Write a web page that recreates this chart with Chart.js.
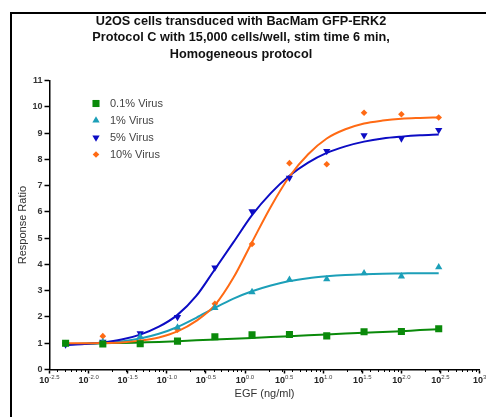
<!DOCTYPE html>
<html>
<head>
<meta charset="utf-8">
<script src="https://cdn.jsdelivr.net/npm/chart.js@4.4.1/dist/chart.umd.min.js"></script>
<style>
  html, body { margin: 0; padding: 0; background: #fff; }
  canvas { display: block; }
</style>
</head>
<body>
<canvas id="egfChart" width="486" height="417"></canvas>
<script>
// EGF doses in ng/ml (1:3 dilution series from 300)
const doses = [0.00508, 0.0152, 0.0457, 0.137, 0.412, 1.23, 3.70, 11.1, 33.3, 100, 300];

// measured response ratios
const virus01 = [1.00, 0.97, 0.98, 1.08, 1.25, 1.32, 1.33, 1.28, 1.44, 1.45, 1.55];
const virus1  = [0.97, 1.05, 1.25, 1.60, 2.35, 2.95, 3.42, 3.44, 3.67, 3.55, 3.90];
const virus5  = [0.95, 1.05, 1.38, 2.00, 3.88, 6.02, 7.30, 8.32, 8.92, 8.80, 9.12];
const virus10 = [1.00, 1.27, 1.05, 1.52, 2.50, 4.78, 7.86, 7.82, 9.78, 9.72, 9.60];

// fitted curves
const fitDoses = [0.00508, 0.0088, 0.0152, 0.0264, 0.0457, 0.0792, 0.137, 0.238, 0.412, 0.713,
                  1.23, 2.14, 3.70, 6.42, 11.1, 19.2, 33.3, 57.7, 100, 173, 300];
const fit01 = [0.97, 0.98, 1.00, 1.01, 1.03, 1.05, 1.08, 1.11, 1.14, 1.17, 1.20,
               1.24, 1.27, 1.30, 1.33, 1.37, 1.40, 1.43, 1.46, 1.50, 1.53];
const fit1  = [0.96, 0.98, 1.01, 1.07, 1.18, 1.36, 1.62, 1.97, 2.35, 2.70, 2.98,
               3.20, 3.37, 3.48, 3.55, 3.60, 3.63, 3.65, 3.66, 3.67, 3.67];
const fit5  = [0.93, 0.97, 1.03, 1.14, 1.33, 1.63, 2.08, 2.80, 3.82, 4.85, 5.88,
               6.72, 7.38, 7.88, 8.25, 8.50, 8.68, 8.80, 8.87, 8.92, 8.95];
const fit10 = [1.00, 1.00, 1.01, 1.03, 1.10, 1.22, 1.45, 1.85, 2.45, 3.50, 4.85,
               6.20, 7.35, 8.20, 8.80, 9.15, 9.37, 9.48, 9.55, 9.58, 9.60];

const seriesLabels = ['0.1% Virus', '1% Virus', '5% Virus', '10% Virus'];
const titleLines = [
  'U2OS cells transduced with BacMam GFP-ERK2',
  'Protocol C with 15,000 cells/well, stim time 6 min,',
  'Homogeneous protocol'
];
const xTickExps = ['-2.5', '-2.0', '-1.5', '-1.0', '-0.5', '0.0', '0.5', '1.0', '1.5', '2.0', '2.5', '3'];

const colors = ['#0a8a0a', '#1c9fb8', '#0c0cc4', '#ff6a14'];
const markers = [
  { pointStyle: 'rect', radius: 5, rotation: 0 },
  { pointStyle: 'triangle', radius: 4.2, rotation: 0 },
  { pointStyle: 'triangle', radius: 4.2, rotation: 180 },
  { pointStyle: 'rectRot', radius: 3.3, rotation: 0 }
];
const FONT = '"Liberation Sans", Arial, sans-serif';

const pts = (xs, ys) => xs.map((x, i) => ({ x: x, y: ys[i] }));
const measured = [virus01, virus1, virus5, virus10];
const fits = [fit01, fit1, fit5, fit10];

const datasets = [];
measured.forEach((vals, i) => {
  datasets.push({
    label: seriesLabels[i],
    data: pts(doses, vals),
    showLine: false,
    backgroundColor: colors[i],
    borderColor: colors[i],
    borderWidth: 0,
    pointStyle: markers[i].pointStyle,
    pointRadius: markers[i].radius,
    pointRotation: markers[i].rotation,
    order: 0
  });
});
fits.forEach((vals, i) => {
  datasets.push({
    label: seriesLabels[i] + ' fit',
    data: pts(fitDoses, vals),
    showLine: true,
    borderColor: colors[i],
    borderWidth: 2,
    pointRadius: 0,
    cubicInterpolationMode: 'monotone',
    fill: false,
    order: 4 - i
  });
});

const decor = {
  id: 'decor',
  afterDraw(chart) {
    const ctx = chart.ctx;
    const xs = chart.scales.x;
    const axisY = chart.chartArea.bottom;
    ctx.save();
    // outer frame
    ctx.fillStyle = '#000';
    ctx.fillRect(10, 12, 476, 2);
    ctx.fillRect(10, 12, 2, 405);

    // title
    ctx.fillStyle = '#111';
    ctx.font = 'bold 12.7px ' + FONT;
    ctx.textAlign = 'center';
    ctx.textBaseline = 'middle';
    titleLines.forEach((t, i) => ctx.fillText(t, 241, 21 + i * 16.5));

    // minor log ticks
    ctx.strokeStyle = '#000';
    ctx.lineWidth = 1;
    for (let n = -3; n < 3; n++) {
      for (let k = 2; k <= 9; k++) {
        const v = k * Math.pow(10, n);
        if (v <= xs.min || v >= xs.max) continue;
        const px = Math.round(xs.getPixelForValue(v)) + 0.5;
        ctx.beginPath();
        ctx.moveTo(px, axisY);
        ctx.lineTo(px, axisY + 2.5);
        ctx.stroke();
      }
    }

    // x tick labels as 10 with superscript exponent
    ctx.textAlign = 'left';
    ctx.textBaseline = 'alphabetic';
    xTickExps.forEach(e => {
      const px = xs.getPixelForValue(Math.pow(10, parseFloat(e)));
      ctx.font = 'bold 9px ' + FONT;
      const w1 = ctx.measureText('10').width;
      ctx.font = '6px ' + FONT;
      const w2 = ctx.measureText(e).width;
      const x0 = px - (w1 + w2) / 2;
      ctx.fillStyle = '#222';
      ctx.font = 'bold 9px ' + FONT;
      ctx.fillText('10', x0, axisY + 13);
      ctx.fillStyle = '#444';
      ctx.font = '6px ' + FONT;
      ctx.fillText(e, x0 + w1, axisY + 9);
    });

    // legend
    ctx.textBaseline = 'middle';
    ctx.font = '11px ' + FONT;
    seriesLabels.forEach((lab, i) => {
      const y = 103.5 + i * 17;
      ctx.fillStyle = colors[i];
      ctx.strokeStyle = colors[i];
      Chart.helpers.drawPoint(ctx, {
        pointStyle: markers[i].pointStyle,
        radius: markers[i].radius,
        rotation: markers[i].rotation,
        borderWidth: 0
      }, 96, y);
      ctx.fillStyle = '#444';
      ctx.fillText(lab, 110, y);
    });
    ctx.restore();
  }
};

new Chart(document.getElementById('egfChart'), {
  type: 'scatter',
  data: { datasets: datasets },
  plugins: [decor],
  options: {
    responsive: false,
    animation: false,
    layout: { padding: { top: 80.7, right: 6.4, left: 0, bottom: 0 } },
    plugins: {
      legend: { display: false },
      title: { display: false },
      tooltip: { enabled: false }
    },
    scales: {
      x: {
        type: 'logarithmic',
        min: Math.pow(10, -2.5),
        max: 1000,
        afterBuildTicks(scale) {
          scale.ticks = xTickExps.map(e => ({ value: Math.pow(10, parseFloat(e)) }));
        },
        afterFit(scale) { scale.height = 47.5; },
        ticks: { display: false },
        grid: { drawOnChartArea: false, color: '#000', tickColor: '#000', tickLength: 4, tickWidth: 1.5 },
        border: { display: true, color: '#000', width: 1.5 },
        title: {
          display: true,
          text: 'EGF (ng/ml)',
          color: '#333',
          font: { family: FONT, size: 11 },
          padding: { top: 0, bottom: 16.4 }
        }
      },
      y: {
        type: 'linear',
        min: 0,
        max: 11,
        afterFit(scale) { scale.width = 49.5; },
        ticks: { stepSize: 1, color: '#333', padding: 2, font: { family: FONT, size: 9, weight: 'bold' } },
        grid: { drawOnChartArea: false, color: '#000', tickColor: '#000', tickLength: 5, tickWidth: 1.5 },
        border: { display: true, color: '#000', width: 1.5 },
        title: {
          display: true,
          text: 'Response Ratio',
          color: '#333',
          font: { family: FONT, size: 11 },
          padding: { top: 16, bottom: 0 }
        }
      }
    }
  }
});
</script>
</body>
</html>
